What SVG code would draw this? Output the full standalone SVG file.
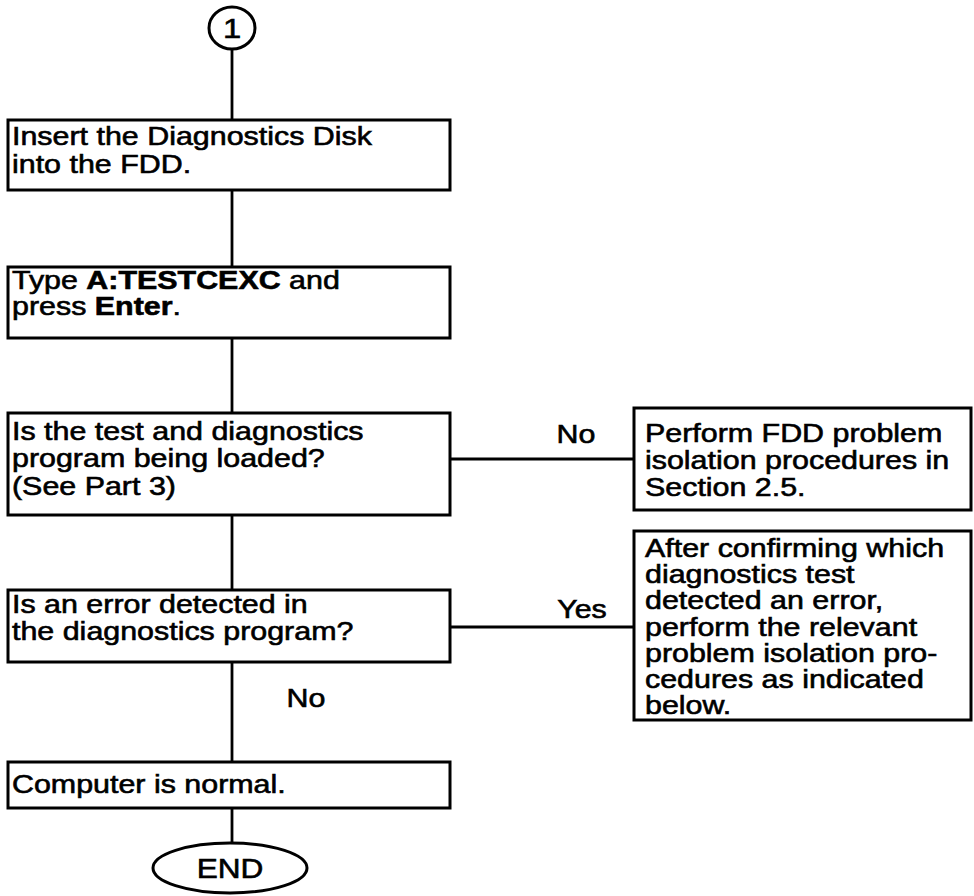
<svg xmlns="http://www.w3.org/2000/svg" width="974" height="896" viewBox="0 0 974 896">
<style>
  .box { fill: #fff; stroke: #000; stroke-width: 3; }
  .ln { stroke: #000; stroke-width: 2.8; fill: none; }
  .t { font-family: "Liberation Sans", Arial, Helvetica, sans-serif; font-size: 26px; fill: #000; stroke: #000; stroke-width: 0.6; }
  .b { font-weight: bold; }
  .c { text-anchor: middle; }
</style>
<rect width="974" height="896" fill="#fff"/>
<g id="connectors">
  <line class="ln" x1="232" y1="50" x2="232" y2="120"/>
  <line class="ln" x1="232" y1="190" x2="232" y2="267"/>
  <line class="ln" x1="232" y1="338" x2="232" y2="413"/>
  <line class="ln" x1="232" y1="515" x2="232" y2="590"/>
  <line class="ln" x1="232" y1="662" x2="232" y2="762"/>
  <line class="ln" x1="232" y1="808" x2="232" y2="843"/>
  <line class="ln" x1="450" y1="459" x2="634" y2="459"/>
  <line class="ln" x1="450" y1="627" x2="634" y2="627"/>
  <text class="t c" transform="translate(576,443) scale(1.17,1)">No</text>
  <text class="t c" transform="translate(582,618) scale(1.17,1)">Yes</text>
  <text class="t c" transform="translate(306,707) scale(1.17,1)">No</text>
</g>
<g id="start">
  <ellipse class="box" cx="232" cy="28" rx="23" ry="21"/>
  <text class="t c" transform="translate(232,38) scale(1.17,1)" style="font-size:28px">1</text>
</g>
<g id="insert">
  <rect class="box" x="8" y="120" width="442" height="70"/>
  <text class="t" transform="translate(12,145) scale(1.17,1)"><tspan x="0" y="0">Insert the Diagnostics Disk</tspan><tspan x="0" y="28">into the FDD.</tspan></text>
</g>
<g id="type">
  <rect class="box" x="8" y="267" width="442" height="71"/>
  <text class="t" transform="translate(12,289) scale(1.17,1)"><tspan x="0" y="0">Type <tspan class="b">A:TESTCEXC</tspan> and</tspan><tspan x="0" y="26.5">press <tspan class="b">Enter</tspan>.</tspan></text>
</g>
<g id="loaded">
  <rect class="box" x="8" y="413" width="442" height="102"/>
  <text class="t" transform="translate(12,440) scale(1.17,1)"><tspan x="0" y="0">Is the test and diagnostics</tspan><tspan x="0" y="27.5">program being loaded?</tspan><tspan x="0" y="55">(See Part 3)</tspan></text>
</g>
<g id="error">
  <rect class="box" x="8" y="590" width="442" height="72"/>
  <text class="t" transform="translate(12,613) scale(1.17,1)"><tspan x="0" y="0">Is an error detected in</tspan><tspan x="0" y="27">the diagnostics program?</tspan></text>
</g>
<g id="normal">
  <rect class="box" x="8" y="762" width="442" height="46"/>
  <text class="t" transform="translate(12,793) scale(1.17,1)">Computer is normal.</text>
</g>
<g id="end">
  <ellipse class="box" cx="230" cy="868" rx="77" ry="25"/>
  <text class="t c" transform="translate(230,878) scale(1.17,1)" style="font-size:27px">END</text>
</g>
<g id="fdd">
  <rect class="box" x="634" y="408" width="337" height="102"/>
  <text class="t" transform="translate(645,442) scale(1.17,1)"><tspan x="0" y="0">Perform FDD problem</tspan><tspan x="0" y="27">isolation procedures in</tspan><tspan x="0" y="54">Section 2.5.</tspan></text>
</g>
<g id="confirm">
  <rect class="box" x="634" y="531" width="337" height="189"/>
  <text class="t" transform="translate(645,557) scale(1.17,1)"><tspan x="0" y="0">After confirming which</tspan><tspan x="0" y="26.2">diagnostics test</tspan><tspan x="0" y="52.4">detected an error,</tspan><tspan x="0" y="78.6">perform the relevant</tspan><tspan x="0" y="104.8">problem isolation pro-</tspan><tspan x="0" y="131">cedures as indicated</tspan><tspan x="0" y="157.2">below.</tspan></text>
</g>
</svg>
